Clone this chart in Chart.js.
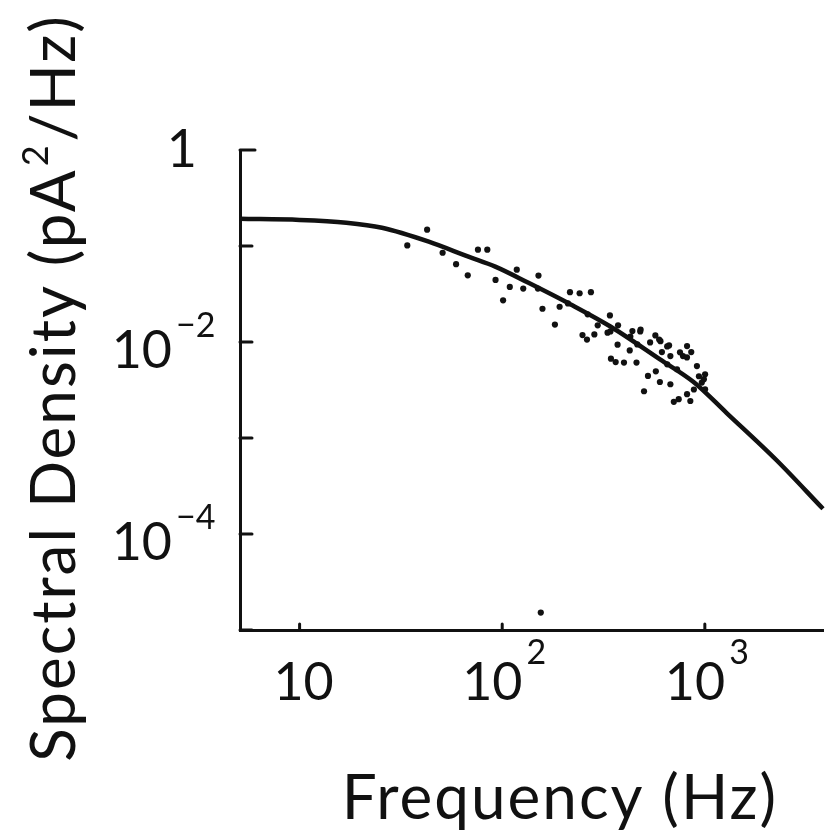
<!DOCTYPE html>
<html>
<head>
<meta charset="utf-8">
<script src="https://cdn.jsdelivr.net/npm/chart.js@4.4.1/dist/chart.umd.min.js"></script>
<style>
  html, body { margin: 0; padding: 0; background: #fff; overflow: hidden; }
  canvas { display: block; }
</style>
</head>
<body>
<canvas id="spectrum-chart" width="827" height="830"></canvas>
<script>
// fitted curve
const curveFreq = [5.08, 10, 17, 25.5, 43.4, 68.1, 92.4, 134, 218, 342, 601, 883, 1282, 2254, 3830];
const curveDensity = [0.192, 0.187, 0.175, 0.155, 0.111, 0.0774, 0.061, 0.0416, 0.0246, 0.0145, 0.00659, 0.00381, 0.00182, 0.00059, 0.000183];

// measured spectrum points
const dotFreq = [42.6, 34.0, 50.8, 75.9, 84.4, 59.2, 67.6, 118, 92.7, 109, 101, 127, 151, 158, 216, 241, 274, 182, 192,
  340, 296, 249, 262, 285, 331, 373, 439, 482, 371, 426, 344, 363, 399, 460, 570, 604, 666, 614, 676, 524, 573, 600,
  501, 817, 857, 780, 914, 1003, 966, 676, 703, 743, 817, 848, 1003, 155, 264, 464, 652, 150, 211,
  342, 429, 480, 537, 595, 652, 754, 816, 935, 989, 883, 729];
const dotDensity = [0.148, 0.1015, 0.0851, 0.0916, 0.0916, 0.0647, 0.0495, 0.0567, 0.0443, 0.0375, 0.0272, 0.036, 0.0492,
  0.0222, 0.033, 0.0322, 0.033, 0.0152, 0.0233, 0.0189, 0.0149, 0.0118, 0.0106, 0.012, 0.0125, 0.0149, 0.013, 0.0135,
  0.00937, 0.00818, 0.00671, 0.00618, 0.0061, 0.0061, 0.0117, 0.0102, 0.00922, 0.00785, 0.00714, 0.00443, 0.00495,
  0.00383, 0.00307, 0.00906, 0.00785, 0.00714, 0.00562, 0.00461, 0.00378, 0.00363, 0.00238, 0.00254, 0.00286, 0.00243,
  0.00322, 0.0000152, 0.0194, 0.00944, 0.00585, 0.036, 0.0252,
  0.0129, 0.0114, 0.0129, 0.0099, 0.0106, 0.009, 0.0078, 0.0069, 0.0044, 0.0041, 0.0032, 0.0052];

// axes
const yTickValues = [1e-5, 1e-4, 1e-3, 1e-2, 1e-1, 1];
const yLabelValues = [1, 1e-2, 1e-4];
const yLabelBase = ['1', '10', '10'];
const yLabelExp = ['', '\u22122', '\u22124'];
const xTickValues = [10, 100, 1000];
const xLabelBase = ['10', '10', '10'];
const xLabelExp = ['', '2', '3'];
const xTitle = 'Frequency (Hz)';
const yTitle = ['Spectral Density (pA', '2', '/Hz)'];

const FONT = 'Lato, "DejaVu Sans", sans-serif';
const INK = '#111';

// inward ticks, superscript labels and titles
const axisDecor = {
  id: 'axisDecor',
  afterDraw(chart) {
    const ctx = chart.ctx;
    const xs = chart.scales.x;
    const ys = chart.scales.y;
    const area = chart.chartArea;
    ctx.save();
    ctx.strokeStyle = INK;
    ctx.fillStyle = INK;
    ctx.lineWidth = 3;
    ctx.lineCap = 'round';

    yTickValues.forEach(v => {
      const py = ys.getPixelForValue(v);
      ctx.beginPath();
      ctx.moveTo(area.left, py);
      ctx.lineTo(area.left + (v === 1 ? 15 : 12), py);
      ctx.stroke();
    });
    xTickValues.forEach(v => {
      const px = xs.getPixelForValue(v);
      ctx.beginPath();
      ctx.moveTo(px, area.bottom);
      ctx.lineTo(px, area.bottom - 6);
      ctx.stroke();
    });

    ctx.textBaseline = 'middle';
    yLabelValues.forEach((v, i) => {
      const py = ys.getPixelForValue(v);
      ctx.font = '52px ' + FONT;
      ctx.textAlign = 'right';
      if (!yLabelExp[i]) {
        ctx.fillText(yLabelBase[i], area.left - 43, py);
        return;
      }
      ctx.fillText(yLabelBase[i], area.left - 68, py + 9);
      ctx.font = '34px ' + FONT;
      ctx.textAlign = 'left';
      ctx.fillText(yLabelExp[i], area.left - 64, py - 16);
    });

    xTickValues.forEach((v, i) => {
      const px = xs.getPixelForValue(v);
      const baseY = area.bottom + 53;
      ctx.font = '52px ' + FONT;
      if (!xLabelExp[i]) {
        ctx.textAlign = 'center';
        ctx.fillText(xLabelBase[i], px + 4, baseY);
        return;
      }
      const wb = ctx.measureText(xLabelBase[i]).width;
      ctx.font = '34px ' + FONT;
      const we = ctx.measureText(xLabelExp[i]).width;
      const start = px + 2 - (wb + 4 + we) / 2;
      ctx.textAlign = 'left';
      ctx.font = '52px ' + FONT;
      ctx.fillText(xLabelBase[i], start, baseY);
      ctx.font = '34px ' + FONT;
      ctx.fillText(xLabelExp[i], start + wb + 4, baseY - 30);
    });

    // x title
    ctx.textBaseline = 'alphabetic';
    ctx.letterSpacing = '2px';
    ctx.textAlign = 'center';
    ctx.font = '62px ' + FONT;
    ctx.fillText(xTitle, 560, 819);

    // y title, rotated, with raised 2
    ctx.translate(75, 388);
    ctx.rotate(-Math.PI / 2);
    ctx.textAlign = 'left';
    ctx.font = '62px ' + FONT;
    const w1 = ctx.measureText(yTitle[0]).width;
    const w3 = ctx.measureText(yTitle[2]).width;
    ctx.font = '36px ' + FONT;
    const w2 = ctx.measureText(yTitle[1]).width;
    const x0 = -(w1 + w2 + 4 + w3) / 2;
    ctx.font = '62px ' + FONT;
    ctx.fillText(yTitle[0], x0, 0);
    ctx.font = '36px ' + FONT;
    ctx.fillText(yTitle[1], x0 + w1 + 2, -27);
    ctx.font = '62px ' + FONT;
    ctx.fillText(yTitle[2], x0 + w1 + w2 + 4, 0);
    ctx.restore();
  }
};

new Chart(document.getElementById('spectrum-chart'), {
  type: 'scatter',
  data: {
    datasets: [
      {
        label: 'Fit',
        data: curveFreq.map((f, i) => ({ x: f, y: curveDensity[i] })),
        showLine: true,
        borderColor: INK,
        borderWidth: 4.5,
        pointRadius: 0,
        cubicInterpolationMode: 'monotone',
        clip: 8
      },
      {
        label: 'Spectrum',
        data: dotFreq.map((f, i) => ({ x: f, y: dotDensity[i] })),
        pointRadius: 3.1,
        backgroundColor: INK,
        borderWidth: 0
      }
    ]
  },
  options: {
    responsive: false,
    animation: false,
    layout: { padding: { left: 240, top: 150, right: 0, bottom: 200 } },
    plugins: { legend: { display: false }, tooltip: { enabled: false } },
    scales: {
      x: {
        type: 'logarithmic',
        min: 5.08,
        max: 3830,
        ticks: { display: false },
        grid: { display: false, drawTicks: false },
        border: { display: true, color: INK, width: 3 }
      },
      y: {
        type: 'logarithmic',
        min: 1e-5,
        max: 1,
        ticks: { display: false },
        grid: { display: false, drawTicks: false },
        border: { display: true, color: INK, width: 3 }
      }
    }
  },
  plugins: [axisDecor]
});
</script>
</body>
</html>
